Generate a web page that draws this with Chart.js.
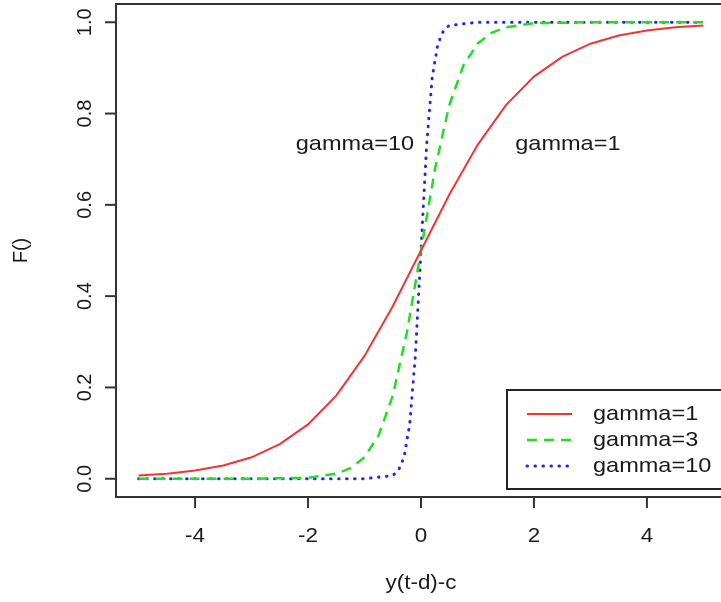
<!DOCTYPE html>
<html>
<head>
<meta charset="utf-8">
<script src="https://cdn.jsdelivr.net/npm/chart.js@4.4.1/dist/chart.umd.min.js"></script>
<style>
    html, body { margin: 0; padding: 0; background: #fff; width: 721px; height: 602px; overflow: hidden; }
    #wrap { position: absolute; left: 0; top: 0; width: 732px; height: 602px; }
</style>
</head>
<body>
<div id="wrap"><canvas id="curveChart" width="732" height="602"></canvas></div>
<script>
// Values (logistic transition curves)
const gamma1X = [-5, -4.5, -4, -3.5, -3, -2.5, -2, -1.5, -1, -0.5, 0, 0.5, 1, 1.5, 2, 2.5, 3, 3.5, 4, 4.5, 5];
const gamma1Y = [0.007, 0.011, 0.018, 0.029, 0.047, 0.076, 0.119, 0.182, 0.269, 0.378, 0.5, 0.622, 0.731, 0.818, 0.881, 0.924, 0.953, 0.971, 0.982, 0.989, 0.993];

const gamma3X = [-5, -4, -3, -2, -1.5, -1.25, -1, -0.75, -0.5, -0.25, 0, 0.25, 0.5, 0.75, 1, 1.25, 1.5, 2, 3, 4, 5];
const gamma3Y = [0, 0, 0, 0.002, 0.011, 0.023, 0.047, 0.095, 0.182, 0.32, 0.5, 0.68, 0.818, 0.905, 0.953, 0.977, 0.989, 0.998, 1, 1, 1];

const gamma10X = [-5, -3, -1, -0.5, -0.4, -0.3, -0.2, -0.1, 0, 0.1, 0.2, 0.3, 0.4, 0.5, 1, 3, 5];
const gamma10Y = [0, 0, 0, 0.007, 0.018, 0.047, 0.119, 0.269, 0.5, 0.731, 0.881, 0.953, 0.982, 0.993, 1, 1, 1];

const xTicks = [-4, -2, 0, 2, 4];
const yTicks = [0, 0.2, 0.4, 0.6, 0.8, 1.0];
const seriesNames = ['gamma=1', 'gamma=3', 'gamma=10'];

// text labels placed inside the plot, in data coordinates
const noteTexts = ['gamma=10', 'gamma=1'];
const noteX = [-1.17, 2.6];
const noteY = [0.733, 0.733];

const FONT = '"Liberation Sans", Arial, sans-serif';
const INK = '#1a1a1a';

function toPoints(xs, ys) {
    return xs.map((x, i) => ({ x: x, y: ys[i] }));
}

// draw text a little wider than normal, like the stretched original
function drawText(ctx, text, x, y, size, rotate, align) {
    ctx.save();
    ctx.translate(x, y);
    if (rotate) ctx.rotate(-Math.PI / 2);
    else ctx.scale(1.12, 1);
    ctx.font = size + 'px ' + FONT;
    ctx.fillStyle = INK;
    ctx.textAlign = align || 'center';
    ctx.textBaseline = 'middle';
    ctx.fillText(text, 0, 0);
    ctx.restore();
}

// Box, ticks, axis labels, notes and legend in base-graphics style
const framePlugin = {
    id: 'frame',
    afterDraw(chart) {
        const ctx = chart.ctx;
        const area = chart.chartArea;
        const xs = chart.scales.x;
        const ys = chart.scales.y;

        ctx.save();
        ctx.strokeStyle = '#333';
        ctx.lineWidth = 2;
        ctx.strokeRect(area.left, area.top, area.right - area.left, area.bottom - area.top);

        // x ticks
        xTicks.forEach(v => {
            const px = xs.getPixelForValue(v);
            ctx.beginPath();
            ctx.moveTo(px, area.bottom);
            ctx.lineTo(px, area.bottom + 11);
            ctx.stroke();
            drawText(ctx, String(v), px, area.bottom + 39, 20, false);
        });

        // y ticks (labels turned like in R)
        yTicks.forEach(v => {
            const py = ys.getPixelForValue(v);
            ctx.beginPath();
            ctx.moveTo(area.left, py);
            ctx.lineTo(area.left - 11, py);
            ctx.stroke();
            drawText(ctx, v.toFixed(1), area.left - 31, py, 20, true);
        });

        // axis titles
        drawText(ctx, 'y(t-d)-c', xs.getPixelForValue(0), 583, 20, false);
        drawText(ctx, 'F()', 21, ys.getPixelForValue(0.5), 20, true);

        // notes
        noteTexts.forEach((t, i) => {
            drawText(ctx, t, xs.getPixelForValue(noteX[i]), ys.getPixelForValue(noteY[i]), 21, false);
        });

        // legend
        const lx = 507, ly = 390, lw = 220, lh = 99;
        ctx.fillStyle = '#fff';
        ctx.fillRect(lx, ly, lw, lh);
        ctx.strokeStyle = '#222';
        ctx.lineWidth = 2;
        ctx.strokeRect(lx, ly, lw, lh);
        chart.data.datasets.forEach((ds, i) => {
            const rowY = 414 + i * 26;
            ctx.save();
            ctx.strokeStyle = ds.borderColor;
            ctx.lineWidth = ds.borderWidth;
            ctx.lineCap = ds.borderCapStyle || 'butt';
            ctx.setLineDash(ds.borderDash || []);
            ctx.beginPath();
            ctx.moveTo(527, rowY);
            ctx.lineTo(572, rowY);
            ctx.stroke();
            ctx.restore();
            drawText(ctx, ds.label, 593, rowY, 21, false, 'left');
        });
        ctx.restore();
    }
};

new Chart(document.getElementById('curveChart'), {
    type: 'line',
    data: {
        datasets: [
            {
                label: seriesNames[0],
                data: toPoints(gamma1X, gamma1Y),
                borderColor: '#f23434',
                borderWidth: 2,
                pointRadius: 0,
                tension: 0,
                fill: false
            },
            {
                label: seriesNames[1],
                data: toPoints(gamma3X, gamma3Y),
                borderColor: '#22dd22',
                borderWidth: 2.5,
                borderDash: [10, 7],
                pointRadius: 0,
                tension: 0,
                fill: false
            },
            {
                label: seriesNames[2],
                data: toPoints(gamma10X, gamma10Y),
                borderColor: '#2222ff',
                borderWidth: 3,
                borderDash: [0.5, 7.5],
                borderCapStyle: 'round',
                pointRadius: 0,
                tension: 0,
                fill: false
            }
        ]
    },
    options: {
        responsive: false,
        animation: false,
        layout: { padding: { top: 4, right: 6, left: 0, bottom: 0 } },
        scales: {
            x: {
                type: 'linear',
                min: -5.4,
                max: 5.4,
                grid: { display: false },
                border: { display: false },
                ticks: { display: false },
                afterFit(scale) { scale.height = 105; }
            },
            y: {
                type: 'linear',
                min: -0.04,
                max: 1.04,
                grid: { display: false },
                border: { display: false },
                ticks: { display: false },
                afterFit(scale) { scale.width = 116; }
            }
        },
        plugins: {
            legend: { display: false },
            tooltip: { enabled: false }
        }
    },
    plugins: [framePlugin]
});
</script>
</body>
</html>
